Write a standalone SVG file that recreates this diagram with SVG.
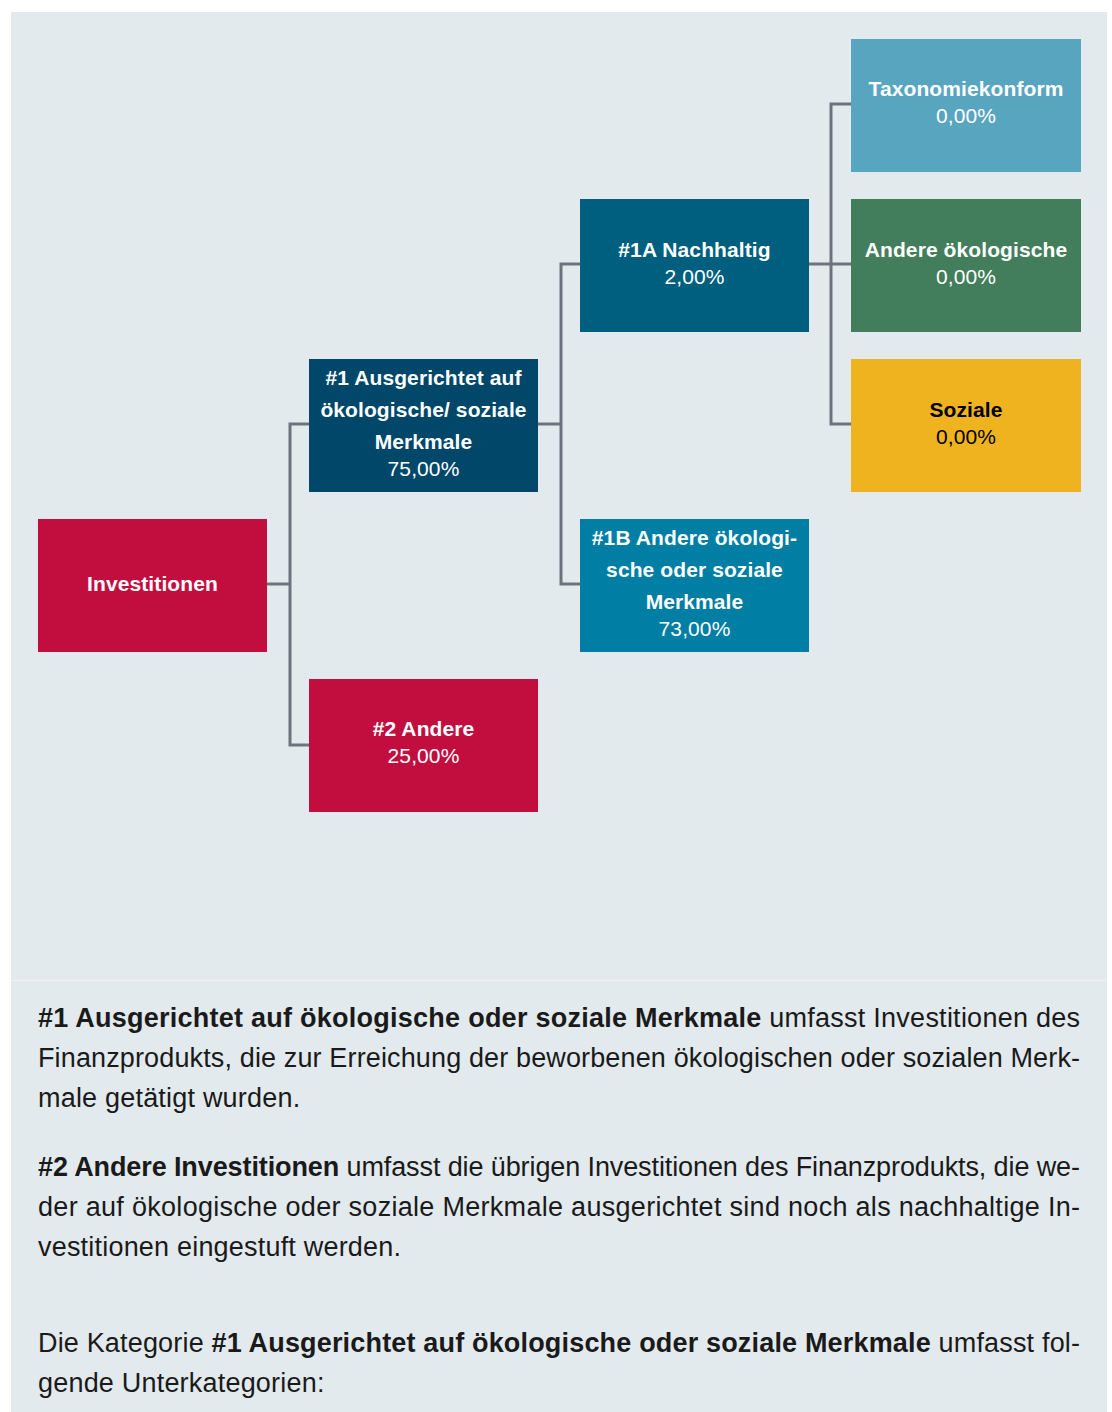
<svg xmlns="http://www.w3.org/2000/svg" width="1112" height="1412" viewBox="0 0 1112 1412">
<style>
.n{font-family:"Liberation Sans",Arial,Helvetica,sans-serif;font-size:21px;text-anchor:middle;fill:#ffffff;letter-spacing:0.1px}
.b{font-weight:bold}
.dk{fill:#000000}
.c{fill:none;stroke:#6c737a;stroke-width:3}
.t{font-family:"Liberation Sans",Arial,Helvetica,sans-serif;font-size:27px;fill:#1a1a1a}
.r{letter-spacing:0.2px}
</style>
<rect x="11" y="12" width="1096" height="1400" fill="#e2eaee"/>
<line x1="11" y1="980.5" x2="1107" y2="980.5" stroke="#edf2f4" stroke-width="1"/>
<g id="connectors">
<path class="c" d="M267,584 H290"/>
<path class="c" d="M309,424 H290 V745 H309"/>
<path class="c" d="M538,424 H561"/>
<path class="c" d="M580,264 H561 V584 H580"/>
<path class="c" d="M809,264 H851"/>
<path class="c" d="M851,104 H831 V424 H851"/>
</g>
<g id="investitionen">
<rect x="38" y="519" width="229" height="133" fill="#c20e3f"/>
<text class="n b" x="152.5" y="590.5">Investitionen</text>
</g>
<g id="n1">
<rect x="309" y="359" width="229" height="133" fill="#00476a"/>
<text class="n b" x="423.5" y="384.5">#1 Ausgerichtet auf</text>
<text class="n b" x="423.5" y="416.5">ökologische/ soziale</text>
<text class="n b" x="423.5" y="448.5">Merkmale</text>
<text class="n" x="423.5" y="475.5">75,00%</text>
</g>
<g id="n2">
<rect x="309" y="679" width="229" height="133" fill="#c20e3f"/>
<text class="n b" x="423.5" y="735.5">#2 Andere</text>
<text class="n" x="423.5" y="762.5">25,00%</text>
</g>
<g id="n1a">
<rect x="580" y="199" width="229" height="133" fill="#005f7e"/>
<text class="n b" x="694.5" y="256.5">#1A Nachhaltig</text>
<text class="n" x="694.5" y="283.5">2,00%</text>
</g>
<g id="n1b">
<rect x="580" y="519" width="229" height="133" fill="#007ea3"/>
<text class="n b" x="694.5" y="544.5">#1B Andere ökologi-</text>
<text class="n b" x="694.5" y="576.5">sche oder soziale</text>
<text class="n b" x="694.5" y="608.5">Merkmale</text>
<text class="n" x="694.5" y="635.5">73,00%</text>
</g>
<g id="taxonomie">
<rect x="851" y="39" width="230" height="133" fill="#58a5c0"/>
<text class="n b" x="966" y="95.5">Taxonomiekonform</text>
<text class="n" x="966" y="122.5">0,00%</text>
</g>
<g id="andere-oeko">
<rect x="851" y="199" width="230" height="133" fill="#437e5c"/>
<text class="n b" x="966" y="256.5">Andere ökologische</text>
<text class="n" x="966" y="283.5">0,00%</text>
</g>
<g id="soziale">
<rect x="851" y="359" width="230" height="133" fill="#f0b320"/>
<text class="n b dk" x="966" y="416.5">Soziale</text>
<text class="n dk" x="966" y="443.5">0,00%</text>
</g>
<g id="body">
<text class="t" x="38" y="1027" textLength="1042" lengthAdjust="spacing"><tspan class="b">#1 Ausgerichtet auf ökologische oder soziale Merkmale</tspan> umfasst Investitionen des</text>
<text class="t" x="38" y="1067" textLength="1042" lengthAdjust="spacing">Finanzprodukts, die zur Erreichung der beworbenen ökologischen oder sozialen Merk-</text>
<text class="t r" x="38" y="1107">male getätigt wurden.</text>
<text class="t" x="38" y="1176" textLength="1042" lengthAdjust="spacing"><tspan class="b">#2 Andere Investitionen</tspan> umfasst die übrigen Investitionen des Finanzprodukts, die we-</text>
<text class="t" x="38" y="1216" textLength="1042" lengthAdjust="spacing">der auf ökologische oder soziale Merkmale ausgerichtet sind noch als nachhaltige In-</text>
<text class="t r" x="38" y="1256">vestitionen eingestuft werden.</text>
<text class="t" x="38" y="1352" textLength="1042" lengthAdjust="spacing">Die Kategorie <tspan class="b">#1 Ausgerichtet auf ökologische oder soziale Merkmale</tspan> umfasst fol-</text>
<text class="t r" x="38" y="1392">gende Unterkategorien:</text>
</g>
</svg>
